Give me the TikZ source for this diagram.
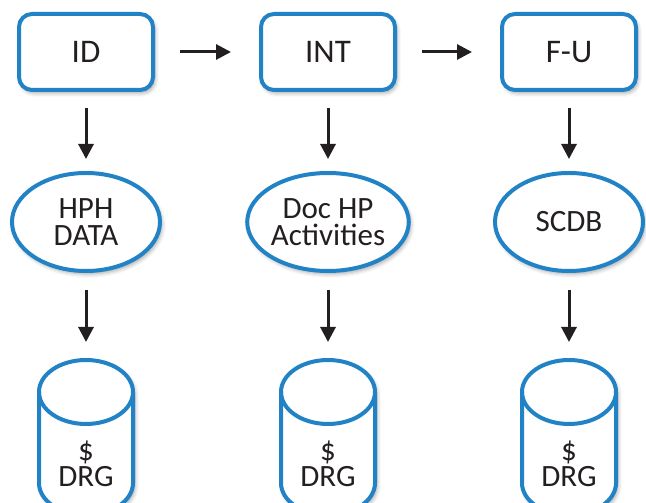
\documentclass[tikz,border=0pt]{standalone}
\usepackage{fontspec}
\setmainfont{Carlito}
\usetikzlibrary{arrows.meta, shapes.geometric, shadows.blur}
\definecolor{flowblue}{HTML}{2183C6}
\definecolor{inkgray}{HTML}{231F20}

\begin{document}
\begin{tikzpicture}[
    x=1pt, y=1pt, % 1 unit = 1 pixel of the layout
    >={Triangle[length=15pt, width=15pt]}, % Solid triangle tips
    soft shadow/.style={blur shadow={shadow xshift=2pt, shadow yshift=-3pt, shadow blur radius=4pt, shadow opacity=35}},
    stage box/.style={draw=flowblue, line width=4pt, fill=white, rounded corners=13pt,
      minimum width=134pt, minimum height=76pt, text=inkgray,
      font=\fontsize{33}{34}\selectfont, soft shadow}, % Process stages on top
    source/.style={ellipse, draw=flowblue, line width=4pt, fill=white, inner sep=0pt,
      minimum width=148pt, minimum height=98pt, align=center, text=inkgray,
      font=\fontsize{31}{27}\selectfont, soft shadow}, % Data sources
    cyl line/.style={draw=flowblue, line width=4pt}, % Database outline
    db text/.style={align=center, text=inkgray, font=\fontsize{31}{26}\selectfont},
    flow/.style={->, line width=3pt, inkgray} % Black connector arrows
  ]

  % --- Frame ---
  \useasboundingbox (0,0) rectangle (646,503);
  \clip (0,0) rectangle (646,503);

  % --- Stages (top row) ---
  \node[stage box] (id)  at (86,451)  {ID};
  \node[stage box] (int) at (328,451) {INT};
  \node[stage box] (fu)  at (569,451) {F-U};

  % --- Sources (middle row) ---
  \node[source] (hph)  at (86,281)  {HPH\\DATA};
  \node[source] (doc)  at (328,281) {Doc HP\\Activities};
  \node[source] (scdb) at (569,281) {SCDB};

  % --- Databases (bottom row, cut by the frame) ---
  \def\cylrx{47} % Horizontal radius of the cylinder ends
  \def\cylry{32} % Vertical radius of the cylinder ends
  \foreach \i/\cx in {1/86, 2/328, 3/569} {
      \draw[cyl line, fill=white, soft shadow] (\cx-\cylrx,111) -- (\cx-\cylrx,20)
        arc[start angle=180, end angle=360, x radius=\cylrx, y radius=\cylry]
        -- (\cx+\cylrx,111)
        arc[start angle=0, end angle=180, x radius=\cylrx, y radius=\cylry] -- cycle;
      \draw[cyl line] (\cx-\cylrx,111)
        arc[start angle=180, end angle=360, x radius=\cylrx, y radius=\cylry]; % Front rim
      \coordinate (db\i top) at (\cx,145);
      \node[db text] (db\i) at (\cx,39) {\$\\DRG};
  }

  % --- Connectors ---
  \draw[flow, shorten <=25pt, shorten >=28pt] (id) -- (int);
  \draw[flow, shorten <=25pt, shorten >=28pt] (int) -- (fu);
  \draw[flow, shorten <=16pt, shorten >=12pt] (id) -- (hph);
  \draw[flow, shorten <=16pt, shorten >=12pt] (int) -- (doc);
  \draw[flow, shorten <=16pt, shorten >=12pt] (fu) -- (scdb);
  \draw[flow, shorten <=17pt, shorten >=16pt] (hph) -- (db1top);
  \draw[flow, shorten <=17pt, shorten >=16pt] (doc) -- (db2top);
  \draw[flow, shorten <=17pt, shorten >=16pt] (scdb) -- (db3top);

\end{tikzpicture}
\end{document}
